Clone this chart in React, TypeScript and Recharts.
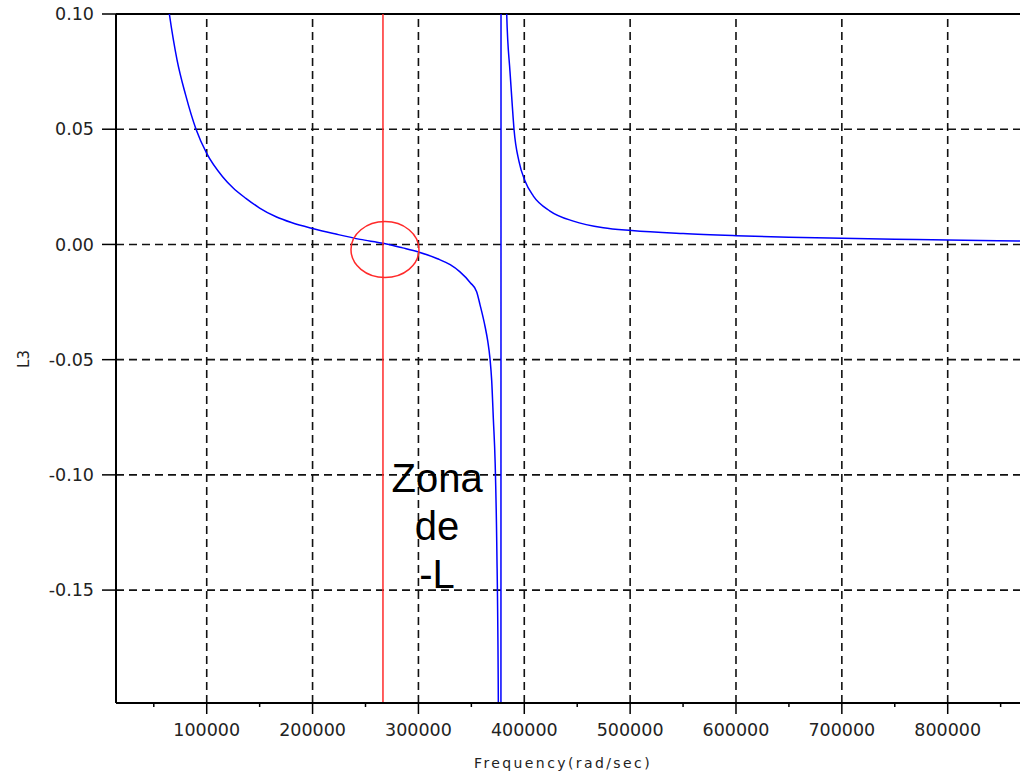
import {
  LineChart,
  Line,
  XAxis,
  YAxis,
  ReferenceLine,
  ReferenceDot,
} from 'recharts'

// frequency (rad/sec) and L3 values; the pole sits near 378000
const FREQ = [
  50000, 57000, 64700, 72000, 80000, 89900, 100000, 115000, 125000, 137000, 150000, 165500,
  180000, 200000, 222000, 245000, 266800, 285000, 300000, 318000, 330000, 339000, 349000, 355000,
  358200, 362900, 365500, 367600, 369200, 370800, 372500, 374000, 375500, 377800,
  378200, 381000, 383400, 386500, 388700, 390300, 395000, 400700, 408600, 424300, 446400,
  474700, 501500, 550000, 600000, 650000, 700000, 750000, 800000, 868300,
]
const L3 = [
  0.165, 0.128, 0.1, 0.08, 0.065, 0.05, 0.0395, 0.0294, 0.0245, 0.02, 0.0158, 0.012,
  0.0095, 0.0069, 0.0045, 0.0022, 0.0005, -0.0015, -0.0033, -0.0062, -0.0088, -0.0118, -0.0166, -0.0205,
  -0.0262, -0.0355, -0.042, -0.0495, -0.059, -0.076, -0.095, -0.13, -0.2, -1.0,
  1.0, 0.25, 0.1, 0.075, 0.06, 0.05, 0.036, 0.0275, 0.021, 0.0145, 0.0101,
  0.0072, 0.006, 0.0047, 0.0038, 0.0031, 0.0027, 0.0023, 0.0019, 0.0015,
]

const X_MAJOR = [100000, 200000, 300000, 400000, 500000, 600000, 700000, 800000]
const X_MINOR = [50000, 150000, 250000, 350000, 450000, 550000, 650000, 750000, 850000]
const Y_TICKS = [-0.15, -0.1, -0.05, 0, 0.05, 0.1]
const Y_GRID = [-0.15, -0.1, -0.05, 0, 0.05]

const MARK_FREQ = 266500
const ZONE_CENTER = { f: 268400, v: -0.0022 }
const NOTE_AT = { f: 317600, v: -0.1076 }
const NOTE_LINES = ['Zona', 'de', '-L']

const data = FREQ.map((f, i) => ({ f, l3: L3[i] }))
const xTicks = [...X_MAJOR, ...X_MINOR].sort((a, b) => a - b)

const FONT = '"DejaVu Sans", Verdana, sans-serif'
const NOTE_FONT = '"Liberation Sans", Arial, sans-serif'
const GRID = { stroke: '#111', strokeWidth: 1.6, strokeDasharray: '8 5' }

function XTick({ x, y, payload }: any) {
  const major = X_MAJOR.includes(payload.value)
  return (
    <g>
      <line x1={x} x2={x} y1={y} y2={y + (major ? 11 : 4)} stroke="#000" strokeWidth={1.5} />
      {major && (
        <text x={x} y={y + 33} textAnchor="middle" fontSize={17.5} fill="#222" fontFamily={FONT}>
          {payload.value}
        </text>
      )}
    </g>
  )
}

export default function App() {
  return (
    <div style={{ position: 'absolute', left: 0, top: 0, background: '#fff' }}>
      <LineChart
        width={1020}
        height={776}
        data={data}
        margin={{ top: 14, right: 0, left: 0, bottom: 0 }}
      >
        <XAxis
          dataKey="f"
          type="number"
          domain={[14300, 868300]}
          allowDataOverflow
          ticks={xTicks}
          interval={0}
          tick={<XTick />}
          tickLine={false}
          tickSize={0}
          tickMargin={0}
          height={73}
          axisLine={{ stroke: '#000', strokeWidth: 2 }}
          label={{
            content: () => (
              <text
                x={563}
                y={768}
                textAnchor="middle"
                fontSize={14}
                letterSpacing={2.4}
                fill="#222"
                fontFamily={FONT}
              >
                Frequency(rad/sec)
              </text>
            ),
          }}
        />
        <YAxis
          type="number"
          domain={[-0.199, 0.1]}
          allowDataOverflow
          ticks={Y_TICKS}
          interval={0}
          width={116}
          tickSize={14}
          tickMargin={8}
          tickFormatter={(v: number) => v.toFixed(2)}
          tick={{ fontSize: 17.5, fill: '#222', fontFamily: FONT }}
          tickLine={{ stroke: '#000', strokeWidth: 1.5 }}
          axisLine={{ stroke: '#000', strokeWidth: 2 }}
          label={{
            content: () => (
              <text
                x={24}
                y={359}
                transform="rotate(-90, 24, 359)"
                textAnchor="middle"
                dominantBaseline="central"
                fontSize={15}
                fill="#222"
                fontFamily={FONT}
              >
                L3
              </text>
            ),
          }}
        />
        {Y_GRID.map((v) => (
          <ReferenceLine key={`y${v}`} y={v} {...GRID} />
        ))}
        {X_MAJOR.map((v) => (
          <ReferenceLine key={`x${v}`} x={v} {...GRID} />
        ))}
        <ReferenceLine y={0.1} stroke="#000" strokeWidth={2} />
        <Line
          type="monotone"
          dataKey="l3"
          stroke="#0000ff"
          strokeWidth={1.5}
          dot={false}
          isAnimationActive={false}
        />
        <ReferenceLine x={MARK_FREQ} stroke="#ff2a2a" strokeWidth={1.5} />
        <ReferenceDot
          x={ZONE_CENTER.f}
          y={ZONE_CENTER.v}
          r={0}
          shape={(p: any) => (
            <ellipse cx={p.cx} cy={p.cy} rx={34} ry={28} fill="none" stroke="#ff2a2a" strokeWidth={1.5} />
          )}
        />
        <ReferenceDot
          x={NOTE_AT.f}
          y={NOTE_AT.v}
          r={0}
          shape={(p: any) => (
            <text x={p.cx} y={p.cy} textAnchor="middle" fontSize={40} fill="#000" fontFamily={NOTE_FONT}>
              {NOTE_LINES.map((t, i) => (
                <tspan key={t} x={p.cx} dy={i === 0 ? 0 : 47.7}>
                  {t}
                </tspan>
              ))}
            </text>
          )}
        />
      </LineChart>
    </div>
  )
}
